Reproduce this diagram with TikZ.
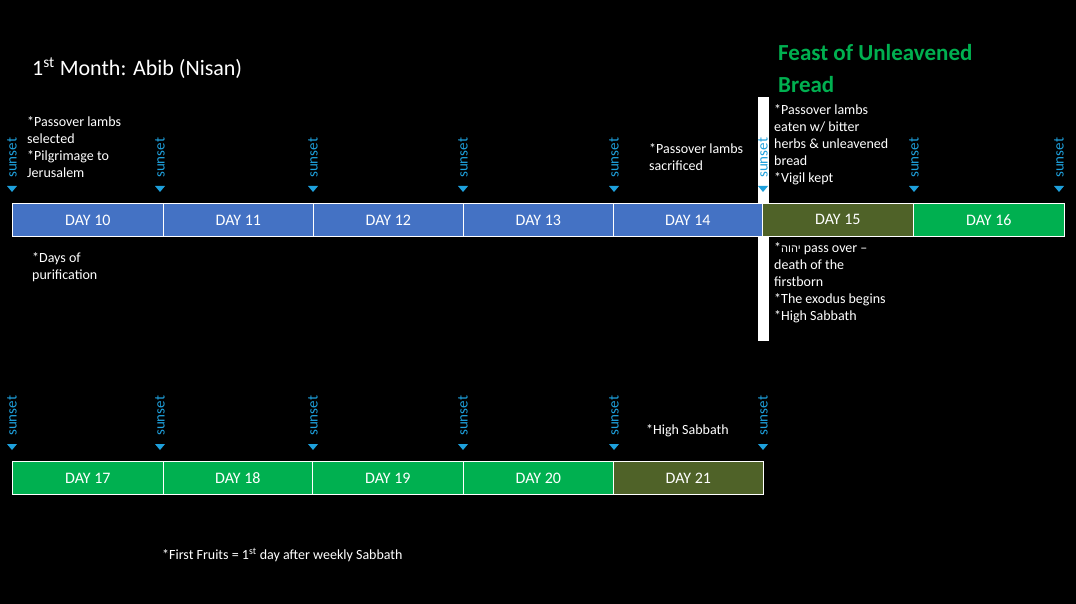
\documentclass[tikz,border=0pt]{standalone}
\usepackage{fontspec}
\setmainfont{Carlito}
\newfontfamily\hebfont[Script=Hebrew]{Liberation Sans}
\TeXXeTstate=1
\begin{document}
\begin{tikzpicture}[x=1pt,y=-1pt,
  day/.style={draw=white,line width=0.8pt,minimum height=33pt,inner sep=0pt,text=white,font=\fontsize{16}{16}\selectfont,anchor=north west},
  note/.style={text=white,font=\fontsize{14}{17}\selectfont,align=left,anchor=north west,inner sep=0pt},
  sun/.style={text={rgb,255:red,30;green,160;blue,220},font=\fontsize{15}{15}\selectfont,rotate=90,anchor=west,inner sep=0pt}]
\definecolor{dblue}{RGB}{68,114,196}
\definecolor{dolive}{RGB}{79,98,40}
\definecolor{dgreen}{RGB}{0,176,80}
\definecolor{sunc}{RGB}{30,160,220}
\fill[black] (0,0) rectangle (1076,604);
\useasboundingbox (0,0) rectangle (1076,604);
\fill[white] (758,97) rectangle (769,341);
\node[note,font=\fontsize{22}{22}\selectfont] (title) at (32,58) {1\textsuperscript{st} Month: Abib (Nisan)};
\node[note,text=dgreen,font=\bfseries\fontsize{23}{32}\selectfont] (feast) at (778,44) {Feast of Unleavened\\Bread};
% row 1
\foreach \x/\w/\c/\t [count=\i] in {12/151/dblue/10,163/150/dblue/11,313/150/dblue/12,463/150/dblue/13,613/149/dblue/14,762/151/dolive/15,913/151/dgreen/16}
  \node[day,fill=\c,minimum width=\w pt] (a\i) at (\x,203) {DAY \t};
\foreach \x/\i in {12/1,160/2,313/3,463/4,614/5,763/6,914/7,1059/8}{
  \node[sun] (s\i) at (\x,178) {sunset};
  \fill[sunc] (\x-5,186) -- (\x+5,186) -- (\x,192) -- cycle;}
% row 2
\foreach \x/\w/\c/\t [count=\i] in {12/151/dgreen/17,163/149/dgreen/18,312/151/dgreen/19,463/150/dgreen/20,613/150/dolive/21}
  \node[day,fill=\c,minimum width=\w pt] (b\i) at (\x,461) {DAY \t};
\foreach \x/\i in {12/1,160/2,313/3,463/4,614/5,763/6}{
  \node[sun] (t\i) at (\x,436) {sunset};
  \fill[sunc] (\x-5,444) -- (\x+5,444) -- (\x,450) -- cycle;}
% notes
\node[note] (n1) at (27,116) {*Passover lambs\\selected\\*Pilgrimage to\\Jerusalem};
\node[note] (n2) at (32,252) {*Days of\\purification};
\node[note] (n3) at (649,143) {*Passover lambs\\sacrificed};
\node[note] (n4) at (774,104) {*Passover lambs\\eaten w/ bitter\\herbs \& unleavened\\bread\\*Vigil kept};
\node[note] (n5) at (774,242) {*{\hebfont\fontsize{11}{11}\selectfont\beginR יהוה\endR} pass over --\\death of the\\firstborn\\*The exodus begins\\*High Sabbath};
\node[note] (n6) at (646,424) {*High Sabbath};
\node[note] (n7) at (162,548) {*First Fruits = 1\textsuperscript{st} day after weekly Sabbath};
\end{tikzpicture}
\end{document}
